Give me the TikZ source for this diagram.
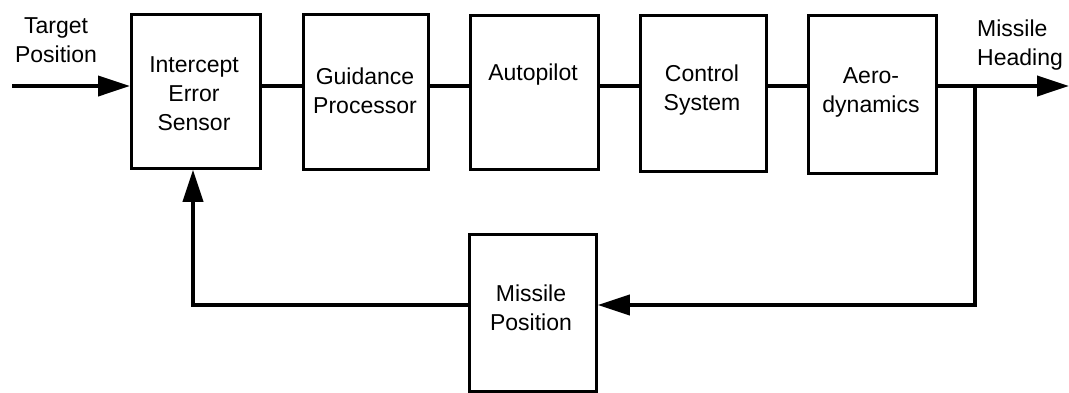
\documentclass[tikz,border=0pt]{standalone}
\usepackage{fontspec}
\setmainfont{Liberation Sans}
\usetikzlibrary{arrows.meta}
\tikzset{
  blk/.style={draw, line width=2.8pt, inner sep=0pt, anchor=north west},
  lbl/.style={font=\fontsize{23}{29}\selectfont, align=center, inner sep=0pt},
  wire/.style={line width=4pt},
  flow/.style={wire, -{Triangle[length=32pt,width=20pt]}},
}
\begin{document}
\begin{tikzpicture}[x=1pt,y=-1pt]
  \useasboundingbox (0,0) rectangle (1069,392);
  % forward path blocks
  \node[blk, minimum width=129pt, minimum height=154pt] (ies) at (130,13) {};
  \node[blk, minimum width=125pt, minimum height=155pt] (gp)  at (302,13) {};
  \node[blk, minimum width=128pt, minimum height=154pt] (ap)  at (469,14) {};
  \node[blk, minimum width=126pt, minimum height=156pt] (cs)  at (639,14) {};
  \node[blk, minimum width=128pt, minimum height=158pt] (ad)  at (807,14) {};
  % feedback block
  \node[blk, minimum width=127pt, minimum height=157pt] (mp)  at (468,233) {};

  % block texts
  \node[lbl] (t1) at (194,94)  {Intercept\\Error\\Sensor};
  \node[lbl] (t2) at (365,91)  {Guidance\\Processor};
  \node[lbl] (t3) at (533,75)  {Autopilot};
  \node[lbl] (t4) at (702,90)  {Control\\System};
  \node[lbl] (t5) at (871,92)  {Aero-\\dynamics};
  \node[lbl] (t6) at (531,308) {Missile\\Position};

  % signal labels
  \node[lbl] (tin) at (56,40) {Target\\Position};
  \node[lbl, align=left, anchor=west] (tout) at (977,45) {Missile\\Heading};

  % coordinates for free ends and corners
  \coordinate (src) at (12,86);
  \coordinate (snk) at (1069,86);
  \coordinate (br)  at (975,86);
  \coordinate (fbr) at (975,305);
  \coordinate (fbl) at (193,305);

  % forward path
  \draw[flow] (src) -- (ies.west |- src);
  \draw[wire] (ies.east |- src) -- (gp.west |- src);
  \draw[wire] (gp.east |- src) -- (ap.west |- src);
  \draw[wire] (ap.east |- src) -- (cs.west |- src);
  \draw[wire] (cs.east |- src) -- (ad.west |- src);
  \draw[flow] (ad.east |- src) -- (snk);

  % feedback path
  \draw[flow] (br) -- (fbr) -- (mp.east |- fbr);
  \draw[flow] (mp.west |- fbl) -- (fbl) -- (fbl |- ies.south);
\end{tikzpicture}
\end{document}
